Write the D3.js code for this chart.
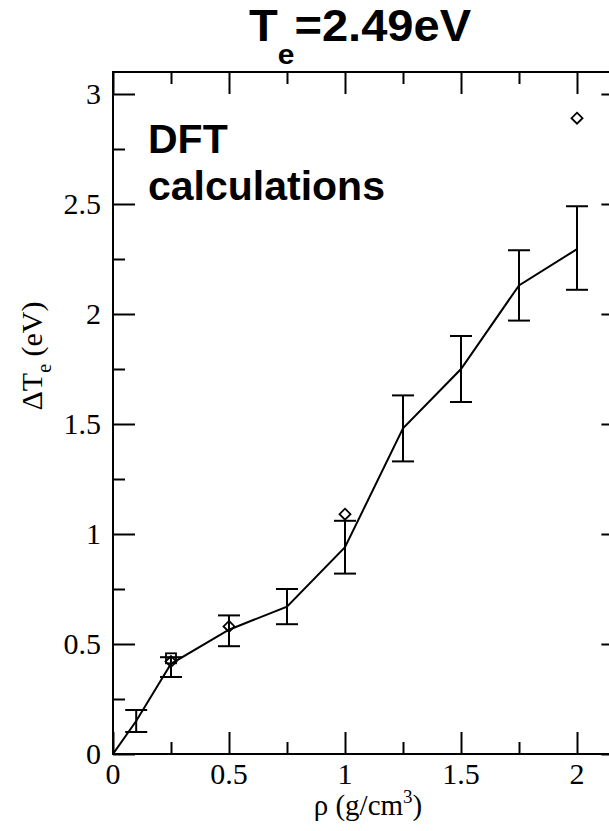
<!DOCTYPE html>
<html><head><meta charset="utf-8">
<script src="https://cdn.jsdelivr.net/npm/d3@7"></script>
<style>body{margin:0;background:#fff}svg{display:block}</style>
</head><body>
<svg id="c" width="609" height="831"></svg>
<script>
// Data
const densities = [0, 0.1, 0.25, 0.5, 0.75, 1.0, 1.25, 1.5, 1.75, 2.0];
const deltaTe   = [0, 0.15, 0.41, 0.565, 0.67, 0.94, 1.48, 1.75, 2.13, 2.295];
const errLow    = [null, 0.10, 0.35, 0.49, 0.59, 0.82, 1.33, 1.60, 1.97, 2.11];
const errHigh   = [null, 0.20, 0.44, 0.63, 0.75, 1.06, 1.63, 1.90, 2.29, 2.49];
const diamondX  = [0.25, 0.5, 1.0, 2.0];
const diamondY  = [0.42, 0.58, 1.09, 2.89];
const squareX   = [0.25];
const squareY   = [0.435];
const xTicks = [0, 0.5, 1, 1.5, 2];
const xTickLabels = ["0", "0.5", "1", "1.5", "2"];
const yTicks = [0, 0.5, 1, 1.5, 2, 2.5, 3];
const yTickLabels = ["0", "0.5", "1", "1.5", "2", "2.5", "3"];
const xMinor = [0.25, 0.75, 1.25, 1.75];
const yMinor = [0.25, 0.75, 1.25, 1.75, 2.25, 2.75];

const svg = d3.select("#c");
svg.append("rect").attr("width",609).attr("height",831).attr("fill","#fff");

const x = d3.scaleLinear().domain([0, 2.2]).range([113, 623.4]);
const y = d3.scaleLinear().domain([0, 3.1]).range([754, 72]);
const L = x(0), R = x(2.2), B = y(0), T = y(3.1);

const serif = "'Liberation Serif','Times New Roman',serif";
const sans = "'Liberation Sans',Arial,Helvetica,sans-serif";

function mkAxis(axisFn, scale, ticks, size) {
  return axisFn(scale).tickValues(ticks).tickSize(size).tickFormat("");
}
svg.append("g").attr("transform",`translate(0,${B})`).call(mkAxis(d3.axisTop, x, xTicks, 22));
svg.append("g").attr("transform",`translate(0,${B})`).call(mkAxis(d3.axisTop, x, xMinor, 12));
svg.append("g").attr("transform",`translate(0,${T})`).call(mkAxis(d3.axisBottom, x, xTicks, 22));
svg.append("g").attr("transform",`translate(0,${T})`).call(mkAxis(d3.axisBottom, x, xMinor, 12));
svg.append("g").attr("transform",`translate(${L},0)`).call(mkAxis(d3.axisRight, y, yTicks, 22));
svg.append("g").attr("transform",`translate(${L},0)`).call(mkAxis(d3.axisRight, y, yMinor, 12));
svg.append("g").attr("transform",`translate(${R},0)`).call(mkAxis(d3.axisLeft, y, yTicks, 22));
svg.append("g").attr("transform",`translate(${R},0)`).call(mkAxis(d3.axisLeft, y, yMinor, 12));
svg.selectAll(".domain").remove();
svg.selectAll(".tick line").attr("stroke","#000").attr("stroke-width",2);
svg.selectAll(".tick text").remove();

// frame
svg.append("rect").attr("x",L).attr("y",T).attr("width",R-L).attr("height",B-T)
  .attr("fill","none").attr("stroke","#000").attr("stroke-width",2);

// tick labels
svg.append("g").selectAll("text").data(xTicks).join("text")
  .attr("x",d=>x(d)).attr("y",B+30).attr("text-anchor","middle")
  .attr("font-family",serif).attr("font-size",30).text((d,i)=>xTickLabels[i]);
svg.append("g").selectAll("text").data(yTicks).join("text")
  .attr("x",L-12).attr("y",d=>y(d)+10).attr("text-anchor","end")
  .attr("font-family",serif).attr("font-size",30).text((d,i)=>yTickLabels[i]);

// axis titles
const xl = svg.append("text").attr("x",368).attr("y",815).attr("text-anchor","middle")
  .attr("font-family",serif).attr("font-size",29);
xl.append("tspan").text("ρ (g/cm");
xl.append("tspan").attr("font-size",19).attr("dy",-12).text("3");
xl.append("tspan").attr("dy",12).text(")");

const yl = svg.append("text").attr("transform","translate(42,356) rotate(-90)").attr("text-anchor","middle")
  .attr("font-family",serif).attr("font-size",30);
yl.append("tspan").text("ΔT");
yl.append("tspan").attr("font-size",20).attr("dy",9).text("e");
yl.append("tspan").attr("dy",-9).text(" (eV)");

// title
const tt = svg.append("text").attr("transform","translate(249,41) scale(1.07,1)").attr("text-anchor","start")
  .attr("font-family",sans).attr("font-weight","bold").attr("font-size",44);
tt.append("tspan").text("T");
tt.append("tspan").attr("font-size",28).attr("dy",23).text("e");
tt.append("tspan").attr("dy",-23).text("=2.49eV");

// annotation
svg.append("text").attr("x",148).attr("y",153).attr("font-family",sans).attr("font-weight","bold")
  .attr("font-size",41).text("DFT");
svg.append("text").attr("x",148).attr("y",200).attr("font-family",sans).attr("font-weight","bold")
  .attr("font-size",41).text("calculations");

// clip
svg.append("clipPath").attr("id","clip").append("rect").attr("x",L).attr("y",T).attr("width",R-L).attr("height",B-T);
const plot = svg.append("g").attr("clip-path","url(#clip)");

// line
const pts = densities.map((d,i)=>[d, deltaTe[i]]);
plot.append("path").datum(pts)
  .attr("d", d3.line().x(d=>x(d[0])).y(d=>y(d[1])))
  .attr("fill","none").attr("stroke","#000").attr("stroke-width",2);

// error bars
const eb = densities.map((d,i)=>({x:d, lo:errLow[i], hi:errHigh[i]})).filter(d=>d.lo!==null);
const cap = 11;
const ge = plot.append("g").attr("stroke","#000").attr("stroke-width",2);
eb.forEach(d=>{
  ge.append("line").attr("x1",x(d.x)).attr("x2",x(d.x)).attr("y1",y(d.lo)).attr("y2",y(d.hi));
  ge.append("line").attr("x1",x(d.x)-cap).attr("x2",x(d.x)+cap).attr("y1",y(d.lo)).attr("y2",y(d.lo));
  ge.append("line").attr("x1",x(d.x)-cap).attr("x2",x(d.x)+cap).attr("y1",y(d.hi)).attr("y2",y(d.hi));
});

// diamonds
plot.append("g").selectAll("path").data(diamondX).join("path")
  .attr("d",(d,i)=>{const cx=x(d), cy=y(diamondY[i]), r=5.5;
    return `M${cx},${cy-r}L${cx+r},${cy}L${cx},${cy+r}L${cx-r},${cy}Z`;})
  .attr("fill","none").attr("stroke","#000").attr("stroke-width",1.8);
// squares
plot.append("g").selectAll("rect").data(squareX).join("rect")
  .attr("x",d=>x(d)-5).attr("y",(d,i)=>y(squareY[i])-5).attr("width",10).attr("height",10)
  .attr("fill","none").attr("stroke","#000").attr("stroke-width",1.8);
</script>
</body></html>
